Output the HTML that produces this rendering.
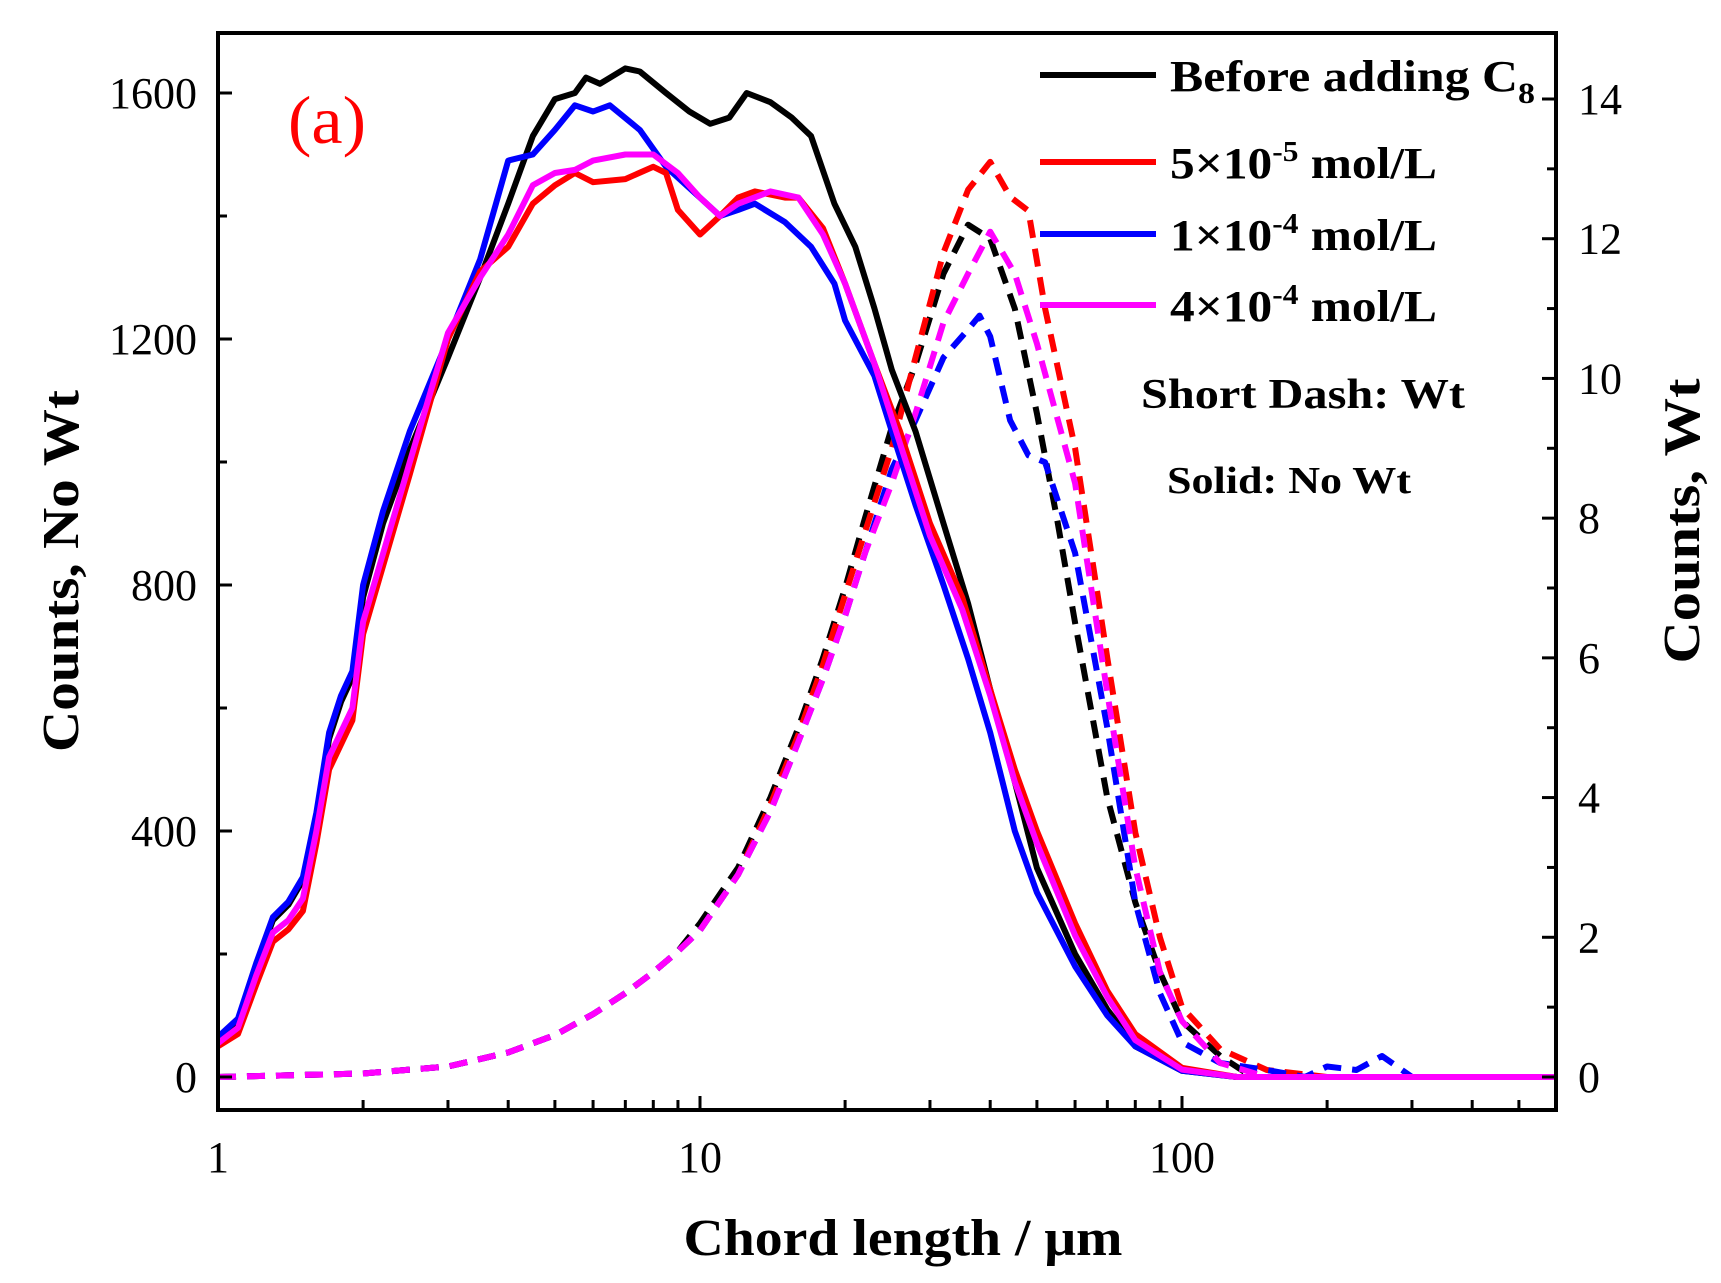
<!DOCTYPE html>
<html><head><meta charset="utf-8"><style>
html,body{margin:0;padding:0;background:#fff;}
svg{display:block;font-family:"Liberation Serif",serif;}
</style></head><body>
<svg id="chart" width="1721" height="1283" viewBox="0 0 1721 1283" xmlns="http://www.w3.org/2000/svg">
<g id="marks"></g>
<g id="axes"></g>
<text x="288" y="143" font-size="68" fill="#f00" textLength="78" lengthAdjust="spacingAndGlyphs">(a)</text>
<g font-weight="bold" font-size="44">
<line x1="1040" y1="75" x2="1156" y2="75" stroke="#000" stroke-width="6"/>
<text x="1170" y="91" textLength="365" lengthAdjust="spacingAndGlyphs">Before adding C<tspan font-size="30" dy="12">8</tspan></text>
<line x1="1040" y1="162" x2="1156" y2="162" stroke="#f00" stroke-width="6"/>
<text x="1170" y="178" textLength="267" lengthAdjust="spacingAndGlyphs">5×10<tspan font-size="28" dy="-17">-5</tspan><tspan dy="17"> mol/L</tspan></text>
<line x1="1040" y1="234" x2="1156" y2="234" stroke="#00f" stroke-width="6"/>
<text x="1170" y="250" textLength="267" lengthAdjust="spacingAndGlyphs">1×10<tspan font-size="28" dy="-17">-4</tspan><tspan dy="17"> mol/L</tspan></text>
<line x1="1040" y1="305" x2="1156" y2="305" stroke="#f0f" stroke-width="6"/>
<text x="1170" y="321" textLength="267" lengthAdjust="spacingAndGlyphs">4×10<tspan font-size="28" dy="-17">-4</tspan><tspan dy="17"> mol/L</tspan></text>
<text x="1141" y="408" font-size="42" textLength="324" lengthAdjust="spacingAndGlyphs">Short Dash: Wt</text>
<text x="1167" y="493" font-size="38" textLength="244" lengthAdjust="spacingAndGlyphs">Solid: No Wt</text>
</g>
<text x="903" y="1255" text-anchor="middle" font-size="52" font-weight="bold" textLength="439" lengthAdjust="spacingAndGlyphs">Chord length / μm</text>
<text transform="translate(78,571) rotate(-90)" text-anchor="middle" font-size="52" font-weight="bold" textLength="362" lengthAdjust="spacingAndGlyphs">Counts, No Wt</text>
<text transform="translate(1699,521) rotate(-90)" text-anchor="middle" font-size="52" font-weight="bold" textLength="285" lengthAdjust="spacingAndGlyphs">Counts, Wt</text>
</svg>
<script>
const X0=218, DEC=482, Y0=1077, LPX=984/1600, RPX=978/14;
const xTicks=[1,10,100];
const yTicksL=[0,400,800,1200,1600];
const yTicksR=[0,2,4,6,8,10,12,14];
// solid No Wt series [chord, count]
const blackSolid=[[1,60],[1.1,90],[1.2,180],[1.3,255],[1.4,280],[1.5,320],[1.6,420],[1.7,550],[1.8,610],[1.9,650],[2,780],[2.2,900],[2.5,1020],[3,1170],[3.5,1300],[4,1420],[4.5,1530],[5,1590],[5.5,1600],[5.8,1625],[6.2,1615],[7,1640],[7.5,1635],[8.5,1600],[9.5,1570],[10.5,1550],[11.5,1560],[12.5,1600],[14,1585],[15.5,1560],[17,1530],[19,1420],[21,1350],[23,1250],[25,1150],[28,1050],[32,900],[36,770],[40,630],[45,480],[50,340],[60,200],[70,110],[80,50],[100,10],[130,0],[700,0]];
const blueSolid=[[1,65],[1.1,95],[1.2,185],[1.3,260],[1.4,285],[1.5,325],[1.6,430],[1.7,560],[1.8,620],[1.9,660],[2,800],[2.2,920],[2.5,1050],[3,1200],[3.5,1330],[4,1490],[4.5,1500],[5,1540],[5.5,1580],[6,1570],[6.5,1580],[7.5,1540],[8.5,1480],[10,1430],[11,1400],[12,1410],[13,1420],[15,1390],[17,1350],[19,1290],[20,1230],[23,1140],[25,1050],[28,930],[32,800],[36,680],[40,560],[45,400],[50,300],[60,180],[70,100],[80,50],[100,10],[130,0],[700,0]];
const redSolid=[[1,50],[1.1,70],[1.2,150],[1.3,220],[1.4,240],[1.5,270],[1.6,380],[1.7,500],[1.9,580],[2,720],[2.5,980],[3,1200],[3.5,1310],[4,1350],[4.5,1420],[5,1450],[5.5,1470],[6,1455],[7,1460],[8,1480],[8.5,1470],[9,1410],[10,1370],[11,1400],[12,1430],[13,1440],[15,1430],[16,1430],[18,1380],[20,1290],[23,1160],[26,1050],[30,900],[35,780],[40,630],[45,500],[50,400],[60,250],[70,140],[80,70],[100,15],[130,0],[700,0]];
const magentaSolid=[[1,55],[1.1,80],[1.2,165],[1.3,235],[1.4,255],[1.5,290],[1.6,400],[1.7,520],[1.9,600],[2,740],[2.5,1000],[3,1210],[3.5,1300],[4,1370],[4.5,1450],[5,1470],[5.5,1475],[6,1490],[7,1500],[8,1500],[9,1470],[10,1430],[11,1400],[12,1420],[14,1440],[16,1430],[18,1370],[20,1290],[23,1160],[26,1030],[30,880],[35,760],[40,620],[45,480],[50,380],[60,230],[70,130],[80,60],[100,12],[130,0],[700,0]];
// dashed Wt series [chord, count]
const blackDash=[[1,0],[2,0.05],[3,0.15],[4,0.35],[5,0.6],[6,0.9],[7,1.2],[8,1.5],[9,1.8],[10,2.2],[12,3.0],[14,4.0],[16,5.0],[18,6.0],[20,7.0],[22,8.0],[25,9.3],[28,10.2],[32,11.5],[36,12.2],[40,12],[45,11],[50,9.5],[55,8],[60,6.5],[70,4],[80,2.5],[90,1.5],[100,0.8],[120,0.3],[140,0],[700,0]];
const redDash=[[1,0],[2,0.05],[3,0.15],[4,0.35],[5,0.6],[6,0.9],[7,1.2],[8,1.5],[9,1.8],[10,2.1],[12,2.9],[14,3.9],[16,4.9],[18,5.9],[20,6.9],[22,7.8],[25,9.0],[28,10.3],[32,11.8],[36,12.7],[40,13.1],[44,12.6],[48,12.4],[52,11],[60,9],[70,6],[80,3.5],[90,2],[100,1],[120,0.4],[150,0.1],[200,0],[700,0]];
const blueDash=[[1,0],[2,0.05],[3,0.15],[4,0.35],[5,0.6],[6,0.9],[7,1.2],[8,1.5],[9,1.8],[10,2.1],[12,2.9],[14,3.8],[16,4.8],[18,5.7],[20,6.6],[22,7.5],[25,8.7],[28,9.4],[32,10.3],[36,10.7],[38,10.9],[40,10.6],[44,9.4],[48,8.9],[52,8.8],[60,7.5],[70,5],[80,2.5],[90,1.2],[100,0.5],[120,0.2],[150,0.1],[180,0],[200,0.15],[230,0.1],[260,0.3],[300,0],[700,0]];
const magentaDash=[[1,0],[2,0.05],[3,0.15],[4,0.35],[5,0.6],[6,0.9],[7,1.2],[8,1.5],[9,1.8],[10,2.1],[12,2.9],[14,3.8],[16,4.8],[18,5.7],[20,6.6],[22,7.5],[25,8.5],[28,9.5],[32,10.8],[36,11.5],[40,12.1],[45,11.5],[50,10.5],[60,8.5],[70,5.5],[80,3],[90,1.5],[100,0.8],[120,0.2],[150,0],[700,0]];
const series=[
 {name:'black-wt',d:blackDash,c:'#000',dash:true},
 {name:'red-wt',d:redDash,c:'#f00',dash:true},
 {name:'blue-wt',d:blueDash,c:'#00f',dash:true},
 {name:'magenta-wt',d:magentaDash,c:'#f0f',dash:true},
 {name:'black-no-wt',d:blackSolid,c:'#000',dash:false},
 {name:'blue-no-wt',d:blueSolid,c:'#00f',dash:false},
 {name:'red-no-wt',d:redSolid,c:'#f00',dash:false},
 {name:'magenta-no-wt',d:magentaSolid,c:'#f0f',dash:false}];
const NS='http://www.w3.org/2000/svg';
const xs=v=>X0+DEC*Math.log10(v);
const yl=v=>Y0-v*LPX;
const yr=v=>Y0-v*RPX;
const XR=1556, YT=33, YB=1110;
const marks=document.getElementById('marks');
for(const s of series){
 const p=document.createElementNS(NS,'path');
 const yf=s.dash?yr:yl;
 p.setAttribute('d',s.d.map((q,i)=>(i?'L':'M')+Math.min(xs(q[0]),XR).toFixed(1)+','+yf(q[1]).toFixed(1)).join(''));
 p.setAttribute('fill','none');p.setAttribute('stroke',s.c);p.setAttribute('stroke-width','6');
 p.setAttribute('stroke-linejoin','round');
 if(s.dash)p.setAttribute('stroke-dasharray','18 11');
 
 
 marks.appendChild(p);
}
const ax=document.getElementById('axes');
function el(tag,attrs,txt){const e=document.createElementNS(NS,tag);for(const k in attrs)e.setAttribute(k,attrs[k]);if(txt!==undefined)e.textContent=txt;ax.appendChild(e);return e;}
const frame=el('rect',{x:X0,y:YT,width:XR-X0,height:YB-YT,fill:'none',stroke:'#000','stroke-width':4});


for(let d=0;d<3;d++)for(let m=1;m<10;m++){const v=Math.pow(10,d)*m;const x=xs(v);if(x>XR)continue;
 const t=el('line',{x1:x,x2:x,y1:YB,y2:YB-(m==1?14:10),stroke:'#000','stroke-width':3});
 
 }
for(const v of xTicks){const t=el('text',{x:xs(v),y:1172,'text-anchor':'middle','font-size':44},String(v));
 
 }
for(let v=0;v<=1600;v+=200){const t=el('line',{x1:X0,x2:X0+(v%400?9:14),y1:yl(v),y2:yl(v),stroke:'#000','stroke-width':3});
 
 }
for(const v of yTicksL){const t=el('text',{x:197,y:yl(v)+15,'text-anchor':'end','font-size':44},String(v));
 
 }
for(let v=0;v<=14;v++){const t=el('line',{x1:XR,x2:XR-(v%2?9:14),y1:yr(v),y2:yr(v),stroke:'#000','stroke-width':3});
 
 }
for(const v of yTicksR){const t=el('text',{x:1578,y:yr(v)+15,'font-size':44},String(v));
 
 }
</script>
</body></html>
